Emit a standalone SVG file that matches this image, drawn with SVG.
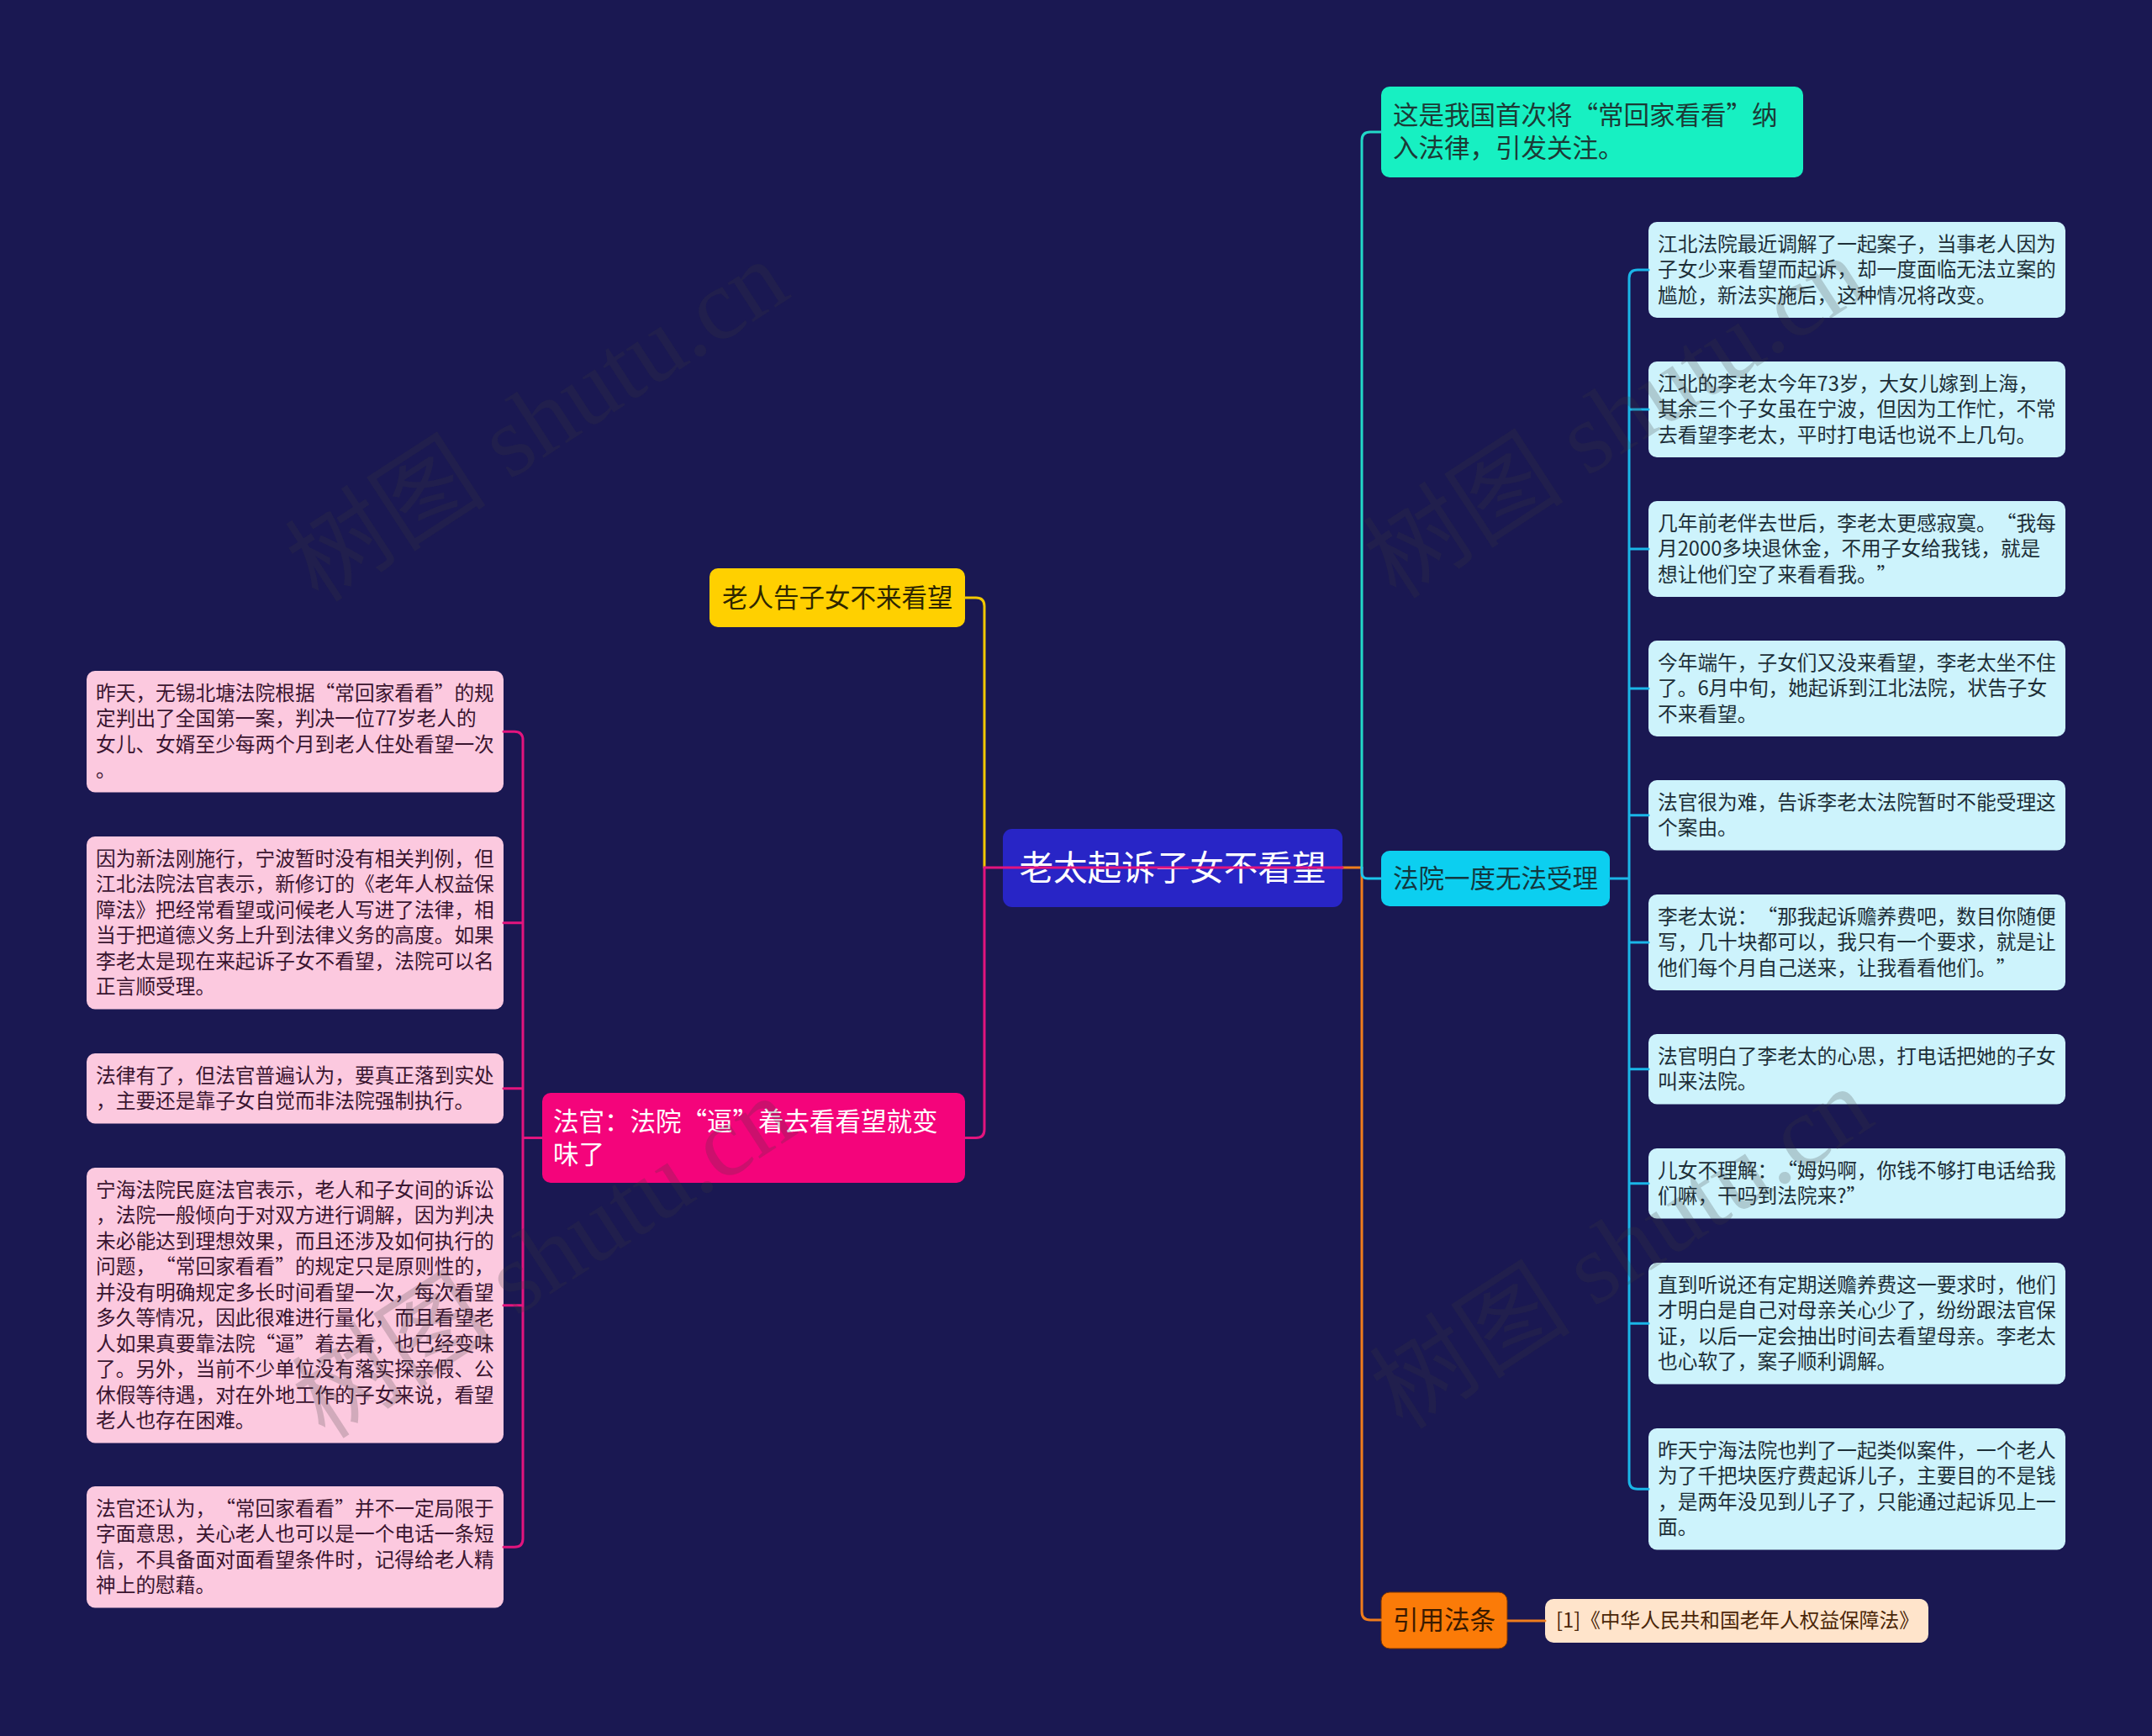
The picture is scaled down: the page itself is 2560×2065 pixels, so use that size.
<svg xmlns="http://www.w3.org/2000/svg" width="2560" height="2065" viewBox="0 0 2560 2065">
<style>
.t{font-family:"Noto Sans CJK SC","Noto Sans CJK TC",sans-serif;text-spacing-trim:space-all}
.c{font-size:23.7px}
.m{font-size:30.5px}
.rc{fill:#cdf3fc}
.rt{fill:#1d2f38}
.lc{fill:#fcc9df}
.lt{fill:#3a1530}
.ln{fill:none;stroke-width:3;stroke-linecap:round;stroke-linejoin:round}
.wm{font-family:"Liberation Serif","Noto Sans CJK SC",serif;font-size:120px;fill:#3c3c3c;fill-opacity:0.22}
</style>
<rect width="2560" height="2065" fill="#1a1852"/>

<g id="root"><rect x="1193" y="986" width="404" height="93" rx="11" fill="#2825c6"/><text class="t" x="1395" y="1047" font-size="40.6" fill="#ffffff" text-anchor="middle">老太起诉子女不看望</text></g>

<g id="n-guanzhu"><rect x="1643" y="103" width="502" height="108" rx="10" fill="#17f0c2"/><text class="t m" fill="#1c3a36"><tspan x="1657" y="148">这是我国首次将“常回家看看”纳</tspan><tspan x="1657" y="187">入法律，引发关注。</tspan></text></g>

<g id="n-fayuan"><rect x="1643" y="1012" width="272" height="66" rx="10" fill="#0ccff0"/><text class="t m" x="1657" y="1056" fill="#123840">法院一度无法受理</text></g>

<g id="n-laoren"><rect x="844" y="676" width="304" height="70" rx="10" fill="#ffd000"/><text class="t m" x="859" y="722" fill="#2e2600">老人告子女不来看望</text></g>

<g id="n-faguan"><rect x="645" y="1300" width="503" height="107" rx="10" fill="#f4047b"/><text class="t m" fill="#ffffff"><tspan x="658" y="1345">法官：法院“逼”着去看看望就变</tspan><tspan x="658" y="1384">味了</tspan></text></g>

<g id="n-yinyong"><rect x="1643" y="1894" width="150" height="67" rx="10" fill="#fb7b08" stroke="#7a3500" stroke-width="1"/><text class="t m" x="1657" y="1938" fill="#3a1a00">引用法条</text></g>

<g id="n-law"><rect x="1838" y="1902" width="456" height="52" rx="10" fill="#ffe4cb"/><text class="t c" x="1851" y="1936" fill="#4a2608">[1]《中华人民共和国老年人权益保障法》</text></g>

<g id="r1"><rect class="rc" x="1961" y="264" width="496" height="114" rx="10"/><text class="t c rt"><tspan x="1972" y="298.7">江北法院最近调解了一起案子，当事老人因为</tspan><tspan x="1972" y="329.2">子女少来看望而起诉，却一度面临无法立案的</tspan><tspan x="1972" y="359.7">尴尬，新法实施后，这种情况将改变。</tspan></text></g>
<g id="r2"><rect class="rc" x="1961" y="430" width="496" height="114" rx="10"/><text class="t c rt"><tspan x="1972" y="464.7">江北的李老太今年73岁，大女儿嫁到上海，</tspan><tspan x="1972" y="495.2">其余三个子女虽在宁波，但因为工作忙，不常</tspan><tspan x="1972" y="525.7">去看望李老太，平时打电话也说不上几句。</tspan></text></g>
<g id="r3"><rect class="rc" x="1961" y="596" width="496" height="114" rx="10"/><text class="t c rt"><tspan x="1972" y="630.7">几年前老伴去世后，李老太更感寂寞。“我每</tspan><tspan x="1972" y="661.2">月2000多块退休金，不用子女给我钱，就是</tspan><tspan x="1972" y="691.7">想让他们空了来看看我。”</tspan></text></g>
<g id="r4"><rect class="rc" x="1961" y="762" width="496" height="114" rx="10"/><text class="t c rt"><tspan x="1972" y="796.7">今年端午，子女们又没来看望，李老太坐不住</tspan><tspan x="1972" y="827.2">了。6月中旬，她起诉到江北法院，状告子女</tspan><tspan x="1972" y="857.7">不来看望。</tspan></text></g>
<g id="r5"><rect class="rc" x="1961" y="928" width="496" height="83.5" rx="10"/><text class="t c rt"><tspan x="1972" y="962.7">法官很为难，告诉李老太法院暂时不能受理这</tspan><tspan x="1972" y="993.2">个案由。</tspan></text></g>
<g id="r6"><rect class="rc" x="1961" y="1064" width="496" height="114" rx="10"/><text class="t c rt"><tspan x="1972" y="1098.7">李老太说：“那我起诉赡养费吧，数目你随便</tspan><tspan x="1972" y="1129.2">写，几十块都可以，我只有一个要求，就是让</tspan><tspan x="1972" y="1159.7">他们每个月自己送来，让我看看他们。”</tspan></text></g>
<g id="r7"><rect class="rc" x="1961" y="1230" width="496" height="83.5" rx="10"/><text class="t c rt"><tspan x="1972" y="1264.7">法官明白了李老太的心思，打电话把她的子女</tspan><tspan x="1972" y="1295.2">叫来法院。</tspan></text></g>
<g id="r8"><rect class="rc" x="1961" y="1366" width="496" height="83.5" rx="10"/><text class="t c rt"><tspan x="1972" y="1400.7">儿女不理解：“姆妈啊，你钱不够打电话给我</tspan><tspan x="1972" y="1431.2">们嘛，干吗到法院来?”</tspan></text></g>
<g id="r9"><rect class="rc" x="1961" y="1502" width="496" height="144.5" rx="10"/><text class="t c rt"><tspan x="1972" y="1536.7">直到听说还有定期送赡养费这一要求时，他们</tspan><tspan x="1972" y="1567.2">才明白是自己对母亲关心少了，纷纷跟法官保</tspan><tspan x="1972" y="1597.7">证，以后一定会抽出时间去看望母亲。李老太</tspan><tspan x="1972" y="1628.2">也心软了，案子顺利调解。</tspan></text></g>
<g id="r10"><rect class="rc" x="1961" y="1699" width="496" height="144.5" rx="10"/><text class="t c rt"><tspan x="1972" y="1733.7">昨天宁海法院也判了一起类似案件，一个老人</tspan><tspan x="1972" y="1764.2">为了千把块医疗费起诉儿子，主要目的不是钱</tspan><tspan x="1972" y="1794.7">，是两年没见到儿子了，只能通过起诉见上一</tspan><tspan x="1972" y="1825.2">面。</tspan></text></g>

<g id="l1"><rect class="lc" x="103" y="798" width="496" height="144.5" rx="10"/><text class="t c lt"><tspan x="114" y="832.7">昨天，无锡北塘法院根据“常回家看看”的规</tspan><tspan x="114" y="863.2">定判出了全国第一案，判决一位77岁老人的</tspan><tspan x="114" y="893.7">女儿、女婿至少每两个月到老人住处看望一次</tspan><tspan x="114" y="924.2">。</tspan></text></g>
<g id="l2"><rect class="lc" x="103" y="995" width="496" height="205.5" rx="10"/><text class="t c lt"><tspan x="114" y="1029.7">因为新法刚施行，宁波暂时没有相关判例，但</tspan><tspan x="114" y="1060.2">江北法院法官表示，新修订的《老年人权益保</tspan><tspan x="114" y="1090.7">障法》把经常看望或问候老人写进了法律，相</tspan><tspan x="114" y="1121.2">当于把道德义务上升到法律义务的高度。如果</tspan><tspan x="114" y="1151.7">李老太是现在来起诉子女不看望，法院可以名</tspan><tspan x="114" y="1182.2">正言顺受理。</tspan></text></g>
<g id="l3"><rect class="lc" x="103" y="1253" width="496" height="83.5" rx="10"/><text class="t c lt"><tspan x="114" y="1287.7">法律有了，但法官普遍认为，要真正落到实处</tspan><tspan x="114" y="1318.2">，主要还是靠子女自觉而非法院强制执行。</tspan></text></g>
<g id="l4"><rect class="lc" x="103" y="1389" width="496" height="327.5" rx="10"/><text class="t c lt"><tspan x="114" y="1423.7">宁海法院民庭法官表示，老人和子女间的诉讼</tspan><tspan x="114" y="1454.2">，法院一般倾向于对双方进行调解，因为判决</tspan><tspan x="114" y="1484.7">未必能达到理想效果，而且还涉及如何执行的</tspan><tspan x="114" y="1515.2">问题，“常回家看看”的规定只是原则性的，</tspan><tspan x="114" y="1545.7">并没有明确规定多长时间看望一次，每次看望</tspan><tspan x="114" y="1576.2">多久等情况，因此很难进行量化，而且看望老</tspan><tspan x="114" y="1606.7">人如果真要靠法院“逼”着去看，也已经变味</tspan><tspan x="114" y="1637.2">了。另外，当前不少单位没有落实探亲假、公</tspan><tspan x="114" y="1667.7">休假等待遇，对在外地工作的子女来说，看望</tspan><tspan x="114" y="1698.2">老人也存在困难。</tspan></text></g>
<g id="l5"><rect class="lc" x="103" y="1768" width="496" height="144.5" rx="10"/><text class="t c lt"><tspan x="114" y="1802.7">法官还认为，“常回家看看”并不一定局限于</tspan><tspan x="114" y="1833.2">字面意思，关心老人也可以是一个电话一条短</tspan><tspan x="114" y="1863.7">信，不具备面对面看望条件时，记得给老人精</tspan><tspan x="114" y="1894.2">神上的慰藉。</tspan></text></g>

<g id="connectors">
<path class="ln" stroke="#f07d1c" d="M1597,1032 H1620 V1917 Q1620,1927 1630,1927 H1643"/>
<path class="ln" stroke="#22d8c8" d="M1620,1032 V167 Q1620,157 1630,157 H1643"/>
<path class="ln" stroke="#1cc6ec" d="M1620,1032 V1038 Q1620,1045 1627,1045 H1643"/>
<path class="ln" stroke="#f07d1c" d="M1793,1928 H1838"/>
<path class="ln" stroke="#1ab6e8" d="M1915,1045 H1938 M1961,321 H1948 Q1938,321 1938,331 V1761.25 Q1938,1771.25 1948,1771.25 H1961 M1938,487 H1961 M1938,653 H1961 M1938,819 H1961 M1938,969.75 H1961 M1938,1121 H1961 M1938,1271.75 H1961 M1938,1407.75 H1961 M1938,1574.25 H1961"/>
<path class="ln" stroke="#f2c800" d="M1171,1032 V721 Q1171,711 1161,711 H1148"/>
<path class="ln" stroke="#e3147e" d="M1171,1032 V1343.5 Q1171,1353.5 1161,1353.5 H1148"/>
<path class="ln" stroke="#e3147e" d="M1597,1032 H1171"/>
<path class="ln" stroke="#e3147e" d="M645,1353.5 H622 M599,870.25 H612 Q622,870.25 622,880.25 V1830.25 Q622,1840.25 612,1840.25 H599 M622,1097.75 H599 M622,1294.75 H599 M622,1552.75 H599"/>
</g>

<g id="watermarks">
<text class="wm" x="645" y="540" text-anchor="middle" transform="rotate(-33 645 510)">树图 shutu.cn</text>
<text class="wm" x="1927" y="536" text-anchor="middle" transform="rotate(-33 1927 506)">树图 shutu.cn</text>
<text class="wm" x="653" y="1535" text-anchor="middle" transform="rotate(-33 653 1505)">树图 shutu.cn</text>
<text class="wm" x="1935" y="1524" text-anchor="middle" transform="rotate(-33 1935 1494)">树图 shutu.cn</text>
</g>
</svg>
